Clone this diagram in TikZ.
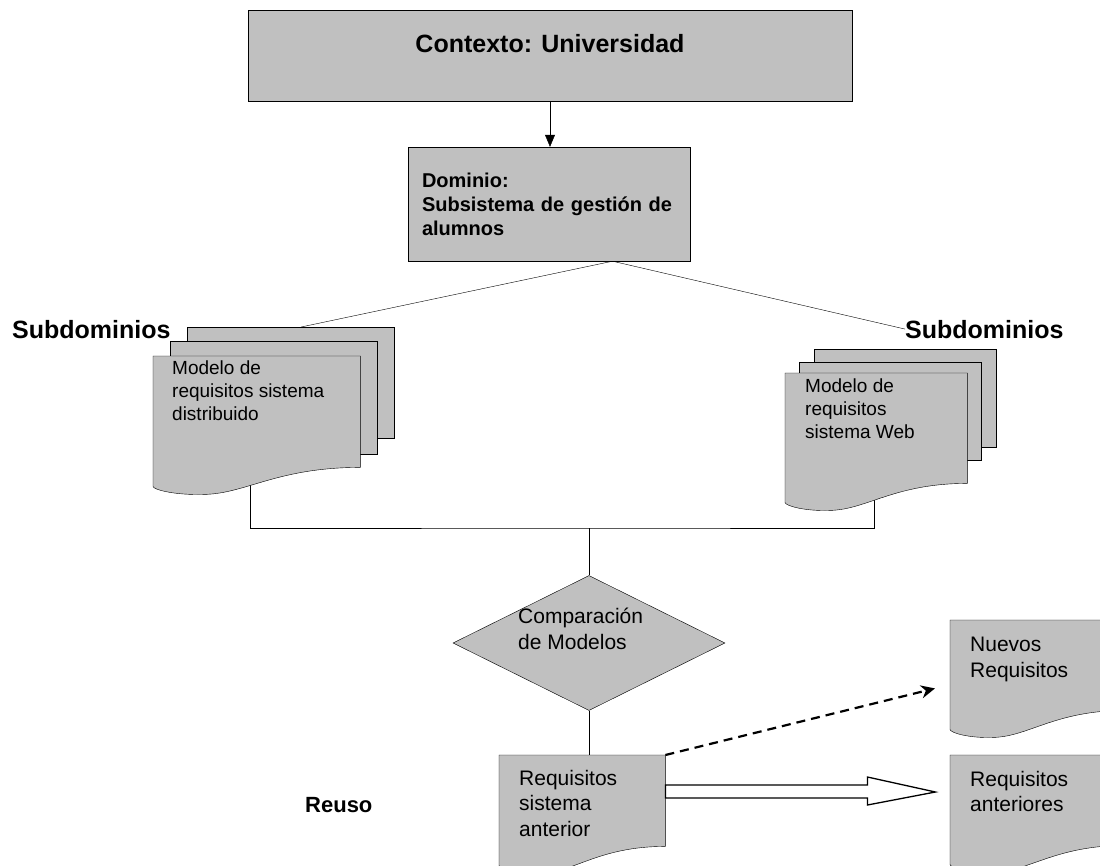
\documentclass[tikz,border=0pt]{standalone}
\usepackage{fontspec}
\setmainfont{Liberation Sans}
\usetikzlibrary{shapes.geometric,calc,arrows.meta,backgrounds}
\definecolor{docgray}{RGB}{192,192,192}

\newcommand{\wavedoc}[1]{%
  \filldraw[docline] (#1.north west) -- (#1.north east) -- (#1.south east)
    .. controls ($(#1.south west)!0.6!(#1.south east)$) and ($(#1.south west)!0.45!(#1.south east)+(0,26)$)
    .. ($(#1.south west)!0.25!(#1.south east)+(0,27)$)
    .. controls ($(#1.south west)!0.1!(#1.south east)+(0,28)$) and ($(#1.south west)+(0,22)$)
    .. ($(#1.south west)+(0,19)$) -- cycle;}

\begin{document}
\begin{tikzpicture}[x=1pt, y=-1pt, line width=1.5pt,
		graybox/.style={draw, fill=docgray, rectangle},
		sheet/.style={graybox, anchor=north west, inner sep=0},
		docarea/.style={rectangle, anchor=north west, inner sep=0},
		docline/.style={draw=black, fill=docgray},
		title/.style={font=\fontsize{25}{30}\selectfont\bfseries, inner sep=0},
		domtext/.style={font=\fontsize{20}{24}\selectfont\bfseries},
		doctext/.style={font=\fontsize{19}{23}\selectfont, align=left, inner sep=0, anchor=north west},
		bodytext/.style={font=\fontsize{21}{25.5}\selectfont, align=left, inner sep=0, anchor=north west},
		decision/.style={diamond, draw, fill=docgray, inner sep=0},
		hollow/.style={draw, fill=white, line width=1.3pt},
		dasharrow/.style={dash pattern=on 9pt off 6pt, line width=2.2pt, -{Stealth[length=14pt,width=13pt]}}
		]
	\useasboundingbox (0,0) rectangle (1100,865);
	\begin{pgfonlayer}{background}
		\fill[white] (0,0) rectangle (1100,865);
	\end{pgfonlayer}

	\node[graybox, title, minimum width=604, minimum height=91, text height=19pt, text depth=26pt] (ctx) at (550,55.5) {Contexto: Universidad};
	\node[graybox, domtext, minimum width=282, minimum height=114, text width=254, align=left] (dom) at (549,204) {Dominio:\\Subsistema de gestión de\\alumnos};
	\coordinate (domfork) at ($(dom.south west)!0.725!(dom.south east)$);

	\node[title, anchor=base west] (subL) at (12,338) {Subdominios};
	\node[title, anchor=base west] (subR) at (905,338) {Subdominios};

	\node[sheet, minimum width=207, minimum height=111] (distC) at (187,327) {};
	\node[sheet, minimum width=207, minimum height=113] (distB) at (170,341) {};
	\node[docarea, minimum width=207, minimum height=111] (distA) at (153,356) {};
	\wavedoc{distA}
	\node[doctext] (distT) at (172,361) {Modelo de\\requisitos sistema\\distribuido};

	\node[sheet, minimum width=182, minimum height=98] (webC) at (814,349) {};
	\node[sheet, minimum width=182, minimum height=98] (webB) at (799,362) {};
	\node[docarea, minimum width=182, minimum height=110] (webA) at (785,373) {};
	\wavedoc{webA}
	\node[doctext] (webT) at (805,379) {Modelo de\\requisitos\\sistema Web};

	\node[decision, minimum width=272, minimum height=135] (cmp) at (589,643) {};
	\node[bodytext] (cmpT) at (518,608) {Comparación\\de Modelos};

	\node[docarea, minimum width=166, minimum height=91] (reqold) at (499,755) {};
	\wavedoc{reqold}
	\node[bodytext] (reqoldT) at (519,770) {Requisitos\\sistema\\anterior};

	\node[docarea, minimum width=175, minimum height=90] (reqnew) at (950,620) {};
	\wavedoc{reqnew}
	\node[bodytext] (reqnewT) at (970,637) {Nuevos\\Requisitos};

	\node[docarea, minimum width=175, minimum height=90] (reqprev) at (950,755) {};
	\wavedoc{reqprev}
	\node[bodytext] (reqprevT) at (970,771) {Requisitos\\anteriores};

	\node[font=\fontsize{22}{26}\selectfont\bfseries, anchor=base west, inner sep=0] (reuse) at (305,812) {Reuso};

	\begin{pgfonlayer}{background}
		\draw[-{Triangle[length=12pt,width=10pt]}] (ctx.south) -- (ctx.south |- dom.north);
		\draw (domfork) -- ($(distC.north west)!0.55!(distC.north east)$);
		\draw (domfork) -- (subR.west);
		\coordinate (merge) at (cmp.north |- 0,528);
		\draw ($(distA.south west)!0.47!(distA.south east)$) |- (merge) -| ($(webA.south west)!0.49!(webA.south east)$);
		\draw (merge) -- (cmp.north);
		\draw (cmp.south) -- (cmp.south |- reqold.north);
	\end{pgfonlayer}

	\draw[dasharrow] (reqold.north east) -- ($(reqnew.south west)+(-15,-22)$);
	\draw[hollow] ($(reqold.north east)+(0,30)$) -- ++(202,0) -- ++(0,-8) -- ++(68,15) -- ++(-68,13) -- ++(0,-7) -- ++(-202,0) -- cycle;
\end{tikzpicture}
\end{document}
